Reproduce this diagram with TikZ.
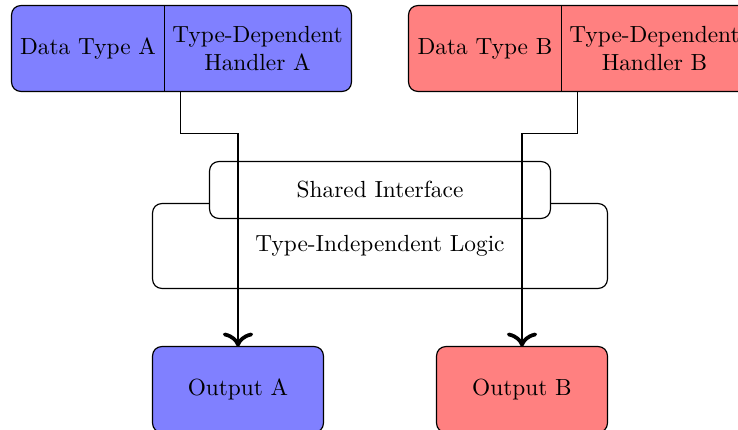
\documentclass[tikz,border=0pt]{standalone}
\usetikzlibrary{arrows.meta,calc,backgrounds}
\begin{document}
\begin{tikzpicture}[x=0.4286pt,y=-0.4286pt,
  cell/.style={rectangle,inner sep=0pt,align=center,minimum height=85*0.4286pt},
  panel/.style={draw=black,line width=0.5pt,rounded corners=4pt},
  link/.style={line width=0.8pt,-{To[length=6pt,width=13pt,line width=1.6pt]}}]
\useasboundingbox (0,0) rectangle (738,430);

% top left: data type A with its handler
\node[cell,minimum width=152*0.4286pt] (dataA) at (88,48.5) {Data Type A};
\node[cell,minimum width=187*0.4286pt] (handA) at (257.5,48.5) {Type-Dependent\\Handler A};
% top right: data type B with its handler
\node[cell,minimum width=152*0.4286pt] (dataB) at (485,48.5) {Data Type B};
\node[cell,minimum width=187*0.4286pt] (handB) at (654.5,48.5) {Type-Dependent\\Handler B};

% shared logic in the middle
\node[cell,minimum width=454*0.4286pt,minimum height=84*0.4286pt] (logic) at (380,246) {Type-Independent Logic};
\node[cell,minimum width=340*0.4286pt,minimum height=56*0.4286pt] (iface) at (380,190) {Shared Interface};

% outputs
\node[cell,minimum width=170*0.4286pt] (outA) at (238,389.5) {Output A};
\node[cell,minimum width=170*0.4286pt] (outB) at (522,389.5) {Output B};

% panels behind the texts
\begin{scope}[on background layer]
  \fill[blue!50,rounded corners=4pt] (dataA.north west) rectangle (handA.south east);
  \draw[panel] (dataA.north west) rectangle (handA.south east);
  \draw[line width=0.5pt] (dataA.north east) -- (dataA.south east);
  \fill[red!50,rounded corners=4pt] (dataB.north west) rectangle (handB.south east);
  \draw[panel] (dataB.north west) rectangle (handB.south east);
  \draw[line width=0.5pt] (dataB.north east) -- (dataB.south east);
  \draw[panel,fill=white] (logic.north west) rectangle (logic.south east);
  \draw[panel,fill=white] (iface.north west) rectangle (iface.south east);
  \draw[panel,fill=blue!50] (outA.north west) rectangle (outA.south east);
  \draw[panel,fill=red!50] (outB.north west) rectangle (outB.south east);
\end{scope}

% connectors from the handlers to the outputs
\coordinate (tapA) at ($(handA.south west)+(17,0)$);
\coordinate (tapB) at ($(handB.south west)+(17,0)$);
\draw[link] (tapA) -- ++(0,42) -| (outA.north);
\draw[link] (tapB) -- ++(0,42) -| (outB.north);
\end{tikzpicture}
\end{document}
